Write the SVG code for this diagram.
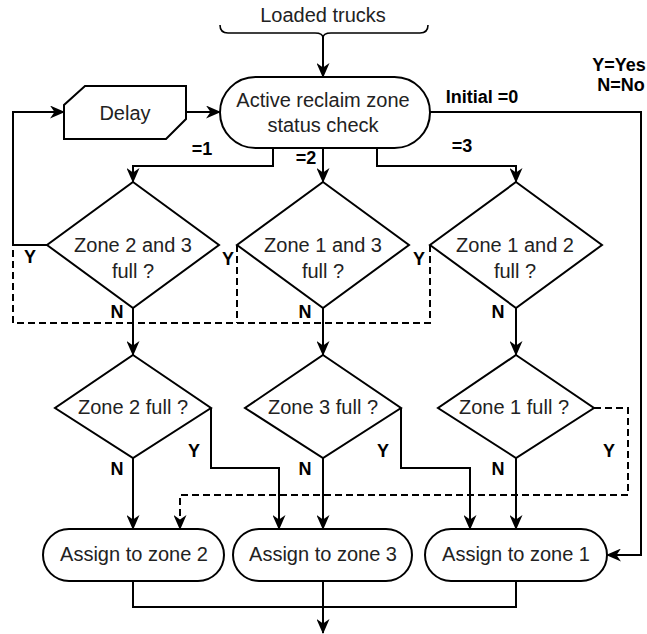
<svg xmlns="http://www.w3.org/2000/svg" width="647" height="634" viewBox="0 0 647 634">
  <style>
    .shape { fill: #ffffff; stroke: #000000; stroke-width: 2; }
    .txt { font-family: "Liberation Sans", Arial, sans-serif; font-size: 20px; fill: #222222; text-anchor: middle; }
    .lbl { font-family: "Liberation Sans", Arial, sans-serif; font-size: 18px; font-weight: bold; fill: #000000; text-anchor: middle; }
    .wire { fill: none; stroke: #000000; stroke-width: 2; }
    .dash { fill: none; stroke: #000000; stroke-width: 2; stroke-dasharray: 7 4; }
  </style>
  <defs>
    <marker id="arrow" markerUnits="userSpaceOnUse" viewBox="0 0 15 13" refX="14" refY="6.5" markerWidth="15" markerHeight="13" orient="auto">
      <path d="M0,0 L15,6.5 L0,13 L4.5,6.5 Z" fill="#000000"/>
    </marker>
  </defs>
  <rect width="647" height="634" fill="#ffffff"/>

  <!-- input -->
  <g id="input">
    <text class="txt" x="323" y="22">Loaded trucks</text>
    <path d="M220,25 Q220,33 228,33 L315,33 Q323,33 323,38 Q323,33 331,33 L420,33 Q428,33 428,25" fill="none" stroke="#000" stroke-width="1.6"/>
  </g>

  <!-- connectors -->
  <g id="connectors">
    <path class="wire" d="M323,37 V77" stroke-width="1.6" marker-end="url(#arrow)"/>
    <path class="wire" d="M186,112 H220" marker-end="url(#arrow)"/>
    <path class="wire" d="M47,245 H13 V112 H64" marker-end="url(#arrow)"/>
    <path class="wire" d="M430,112 H641 V555 H607" marker-end="url(#arrow)"/>
    <path class="wire" d="M273,148 V166 H133 V182" marker-end="url(#arrow)"/>
    <path class="wire" d="M323,148 V182" marker-end="url(#arrow)"/>
    <path class="wire" d="M377,148 V166 H516 V182" marker-end="url(#arrow)"/>
    <path class="dash" d="M237,245 V323"/>
    <path class="dash" d="M430,245 V323 H13 V245"/>
    <path class="wire" d="M133,308 V355" marker-end="url(#arrow)"/>
    <path class="wire" d="M323,308 V355" marker-end="url(#arrow)"/>
    <path class="wire" d="M516,308 V355" marker-end="url(#arrow)"/>
    <path class="wire" d="M133,458 V529" marker-end="url(#arrow)"/>
    <path class="wire" d="M323,458 V529" marker-end="url(#arrow)"/>
    <path class="wire" d="M516,458 V529" marker-end="url(#arrow)"/>
    <path class="wire" d="M211,408 V468 H279 V529" marker-end="url(#arrow)"/>
    <path class="wire" d="M401,408 V468 H470 V529" marker-end="url(#arrow)"/>
    <path class="dash" d="M594,408 H628 V495 H180 V529" marker-end="url(#arrow)"/>
    <path class="wire" d="M133,581 V607 H516 V581"/>
    <path class="wire" d="M323,581 V633" marker-end="url(#arrow)"/>
  </g>

  <!-- branch labels -->
  <g id="labels">
    <text class="lbl" x="202" y="155">=1</text>
    <text class="lbl" x="306" y="164">=2</text>
    <text class="lbl" x="462" y="152">=3</text>
    <text class="lbl" x="482" y="103" font-size="19">Initial =0</text>
    <text class="lbl" x="619" y="71" font-size="15">Y=Yes</text>
    <text class="lbl" x="621" y="91" font-size="15">N=No</text>
    <text class="lbl" x="30" y="263">Y</text>
    <text class="lbl" x="228" y="265">Y</text>
    <text class="lbl" x="419" y="265">Y</text>
    <text class="lbl" x="117" y="318">N</text>
    <text class="lbl" x="305" y="318">N</text>
    <text class="lbl" x="498" y="318">N</text>
    <text class="lbl" x="194" y="457">Y</text>
    <text class="lbl" x="383" y="457">Y</text>
    <text class="lbl" x="609" y="457">Y</text>
    <text class="lbl" x="117" y="475">N</text>
    <text class="lbl" x="305" y="475">N</text>
    <text class="lbl" x="498" y="475">N</text>
  </g>

  <!-- nodes -->
  <g id="delay">
    <path class="shape" d="M85,86 H186 V119 L166,139 H64 V105 Z"/>
    <text class="txt" x="125" y="120">Delay</text>
  </g>
  <g id="status-check">
    <rect class="shape" x="220" y="77" width="210" height="71" rx="35.5" ry="35.5"/>
    <text class="txt" x="323" y="107">Active reclaim zone</text>
    <text class="txt" x="323" y="132">status check</text>
  </g>
  <g id="zone23-full">
    <path class="shape" d="M133,182 L219,245 L133,308 L47,245 Z"/>
    <text class="txt" x="133" y="252">Zone 2 and 3</text>
    <text class="txt" x="133" y="278">full ?</text>
  </g>
  <g id="zone13-full">
    <path class="shape" d="M323,182 L409,245 L323,308 L237,245 Z"/>
    <text class="txt" x="323" y="252">Zone 1 and 3</text>
    <text class="txt" x="323" y="278">full ?</text>
  </g>
  <g id="zone12-full">
    <path class="shape" d="M516,182 L602,245 L516,308 L430,245 Z"/>
    <text class="txt" x="515" y="252">Zone 1 and 2</text>
    <text class="txt" x="515" y="278">full ?</text>
  </g>
  <g id="zone2-full">
    <path class="shape" d="M133,355 L211,408 L133,458 L55,408 Z"/>
    <text class="txt" x="133" y="414">Zone 2 full ?</text>
  </g>
  <g id="zone3-full">
    <path class="shape" d="M323,355 L401,408 L323,458 L245,408 Z"/>
    <text class="txt" x="323" y="414">Zone 3 full ?</text>
  </g>
  <g id="zone1-full">
    <path class="shape" d="M516,355 L594,408 L516,458 L438,408 Z"/>
    <text class="txt" x="514" y="414">Zone 1 full ?</text>
  </g>
  <g id="assign-zone2">
    <rect class="shape" x="43" y="529" width="181" height="52" rx="26" ry="26"/>
    <text class="txt" x="134" y="561">Assign to zone 2</text>
  </g>
  <g id="assign-zone3">
    <rect class="shape" x="233" y="529" width="179" height="52" rx="26" ry="26"/>
    <text class="txt" x="323" y="561">Assign to zone 3</text>
  </g>
  <g id="assign-zone1">
    <rect class="shape" x="425" y="529" width="182" height="52" rx="26" ry="26"/>
    <text class="txt" x="516" y="561">Assign to zone 1</text>
  </g>
</svg>
